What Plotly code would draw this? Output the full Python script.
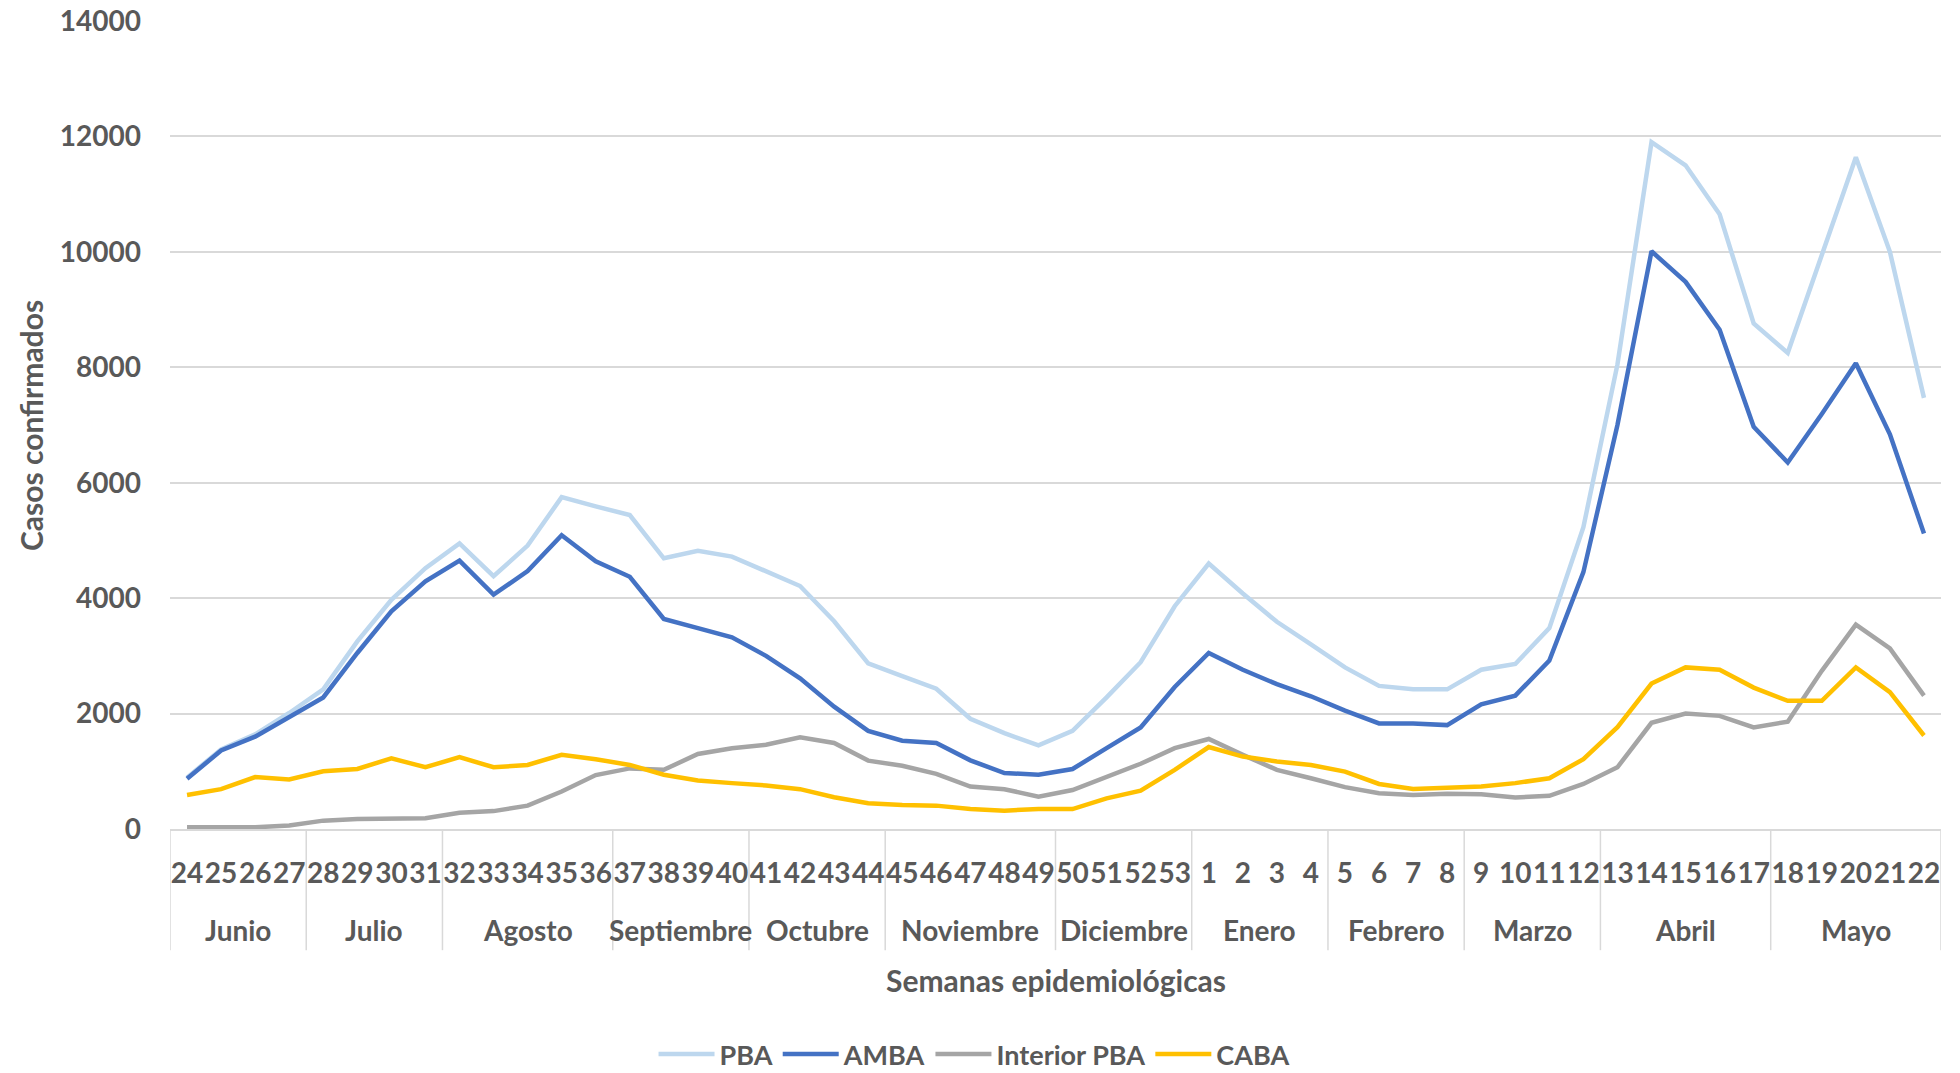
import plotly.graph_objects as go

# ---- data ----
weeks = ["24", "25", "26", "27", "28", "29", "30", "31", "32", "33", "34", "35", "36",
         "37", "38", "39", "40", "41", "42", "43", "44", "45", "46", "47", "48", "49",
         "50", "51", "52", "53", "1", "2", "3", "4", "5", "6", "7", "8", "9", "10",
         "11", "12", "13", "14", "15", "16", "17", "18", "19", "20", "21", "22"]
month_names = ["Junio", "Julio", "Agosto", "Septiembre", "Octubre", "Noviembre",
               "Diciembre", "Enero", "Febrero", "Marzo", "Abril", "Mayo"]
weeks_per_month = [4, 4, 5, 4, 4, 5, 4, 4, 4, 4, 5, 5]

pba = [890, 1380, 1640, 2010, 2420, 3250, 3970, 4520, 4950, 4380, 4910, 5750, 5590,
       5440, 4690, 4820, 4720, 4460, 4210, 3600, 2870, 2650, 2430, 1910, 1660, 1450,
       1700, 2280, 2890, 3860, 4600, 4080, 3590, 3200, 2800, 2480, 2420, 2420, 2760,
       2860, 3480, 5230, 8050, 11900, 11500, 10650, 8760, 8250, 9950, 11640, 10000, 7470]
amba = [870, 1360, 1600, 1950, 2280, 3050, 3770, 4290, 4650, 4060, 4470, 5090, 4640,
        4370, 3640, 3480, 3320, 3000, 2610, 2120, 1700, 1530, 1490, 1190, 970, 940,
        1040, 1400, 1760, 2460, 3050, 2760, 2510, 2300, 2050, 1830, 1830, 1800, 2160,
        2310, 2920, 4450, 7000, 10010, 9480, 8650, 6970, 6350, 7190, 8070, 6840, 5120]
interior = [30, 30, 30, 60, 145, 175, 175, 185, 280, 310, 405, 650, 935,
            1050, 1025, 1300, 1400, 1460, 1590, 1490, 1185, 1095, 955, 735, 690, 560,
            675, 895, 1130, 1400, 1560, 1285, 1025, 880, 725, 620, 590, 610, 600,
            545, 575, 780, 1070, 1840, 2000, 1960, 1760, 1860, 2740, 3540, 3130, 2310]
caba = [590, 690, 900, 860, 1000, 1040, 1225, 1070, 1245, 1070, 1110, 1285, 1210,
        1110, 940, 840, 795, 755, 690, 550, 445, 415, 405, 345, 318, 345,
        345, 530, 665, 1025, 1420, 1255, 1170, 1110, 995, 780, 695, 715, 735,
        795, 880, 1210, 1765, 2520, 2800, 2760, 2450, 2220, 2220, 2800, 2370, 1620]

series = [("PBA", pba, "#BDD7EE"), ("AMBA", amba, "#4472C4"),
          ("Interior PBA", interior, "#A5A5A5"), ("CABA", caba, "#FFC000")]

FONT = "Lato"
TXT = "#595959"
GRID = "#D9D9D9"

fig = go.Figure()
for name, vals, color in series:
    fig.add_trace(go.Scatter(x=weeks, y=vals, name=name, mode="lines",
                             line=dict(color=color, width=4.5)))

# month group labels and dividers on the category axis (index positions)
annotations = []
shapes = []
start = 0
boundaries = [0]
for name, n in zip(month_names, weeks_per_month):
    center = start + (n - 1) / 2
    annotations.append(dict(text=name, x=center, xref="x", y=-0.125, yref="paper",
                            xanchor="center", yanchor="middle", showarrow=False,
                            font=dict(family=FONT, size=28, color=TXT, weight="bold")))
    start += n
    boundaries.append(start)
for b in boundaries:
    shapes.append(dict(type="line", xref="x", yref="paper", x0=b - 0.5, x1=b - 0.5,
                       y0=0, y1=-0.15, line=dict(color=GRID, width=1.5)))

annotations += [
    dict(text="Semanas epidemiológicas", x=0.5, xref="paper", y=-0.187, yref="paper",
         xanchor="center", yanchor="middle", showarrow=False,
         font=dict(family=FONT, size=30, color=TXT, weight="bold")),
    dict(text="Casos confirmados", x=-0.0785, xref="paper", y=0.5, yref="paper",
         xanchor="center", yanchor="middle", textangle=-90, showarrow=False,
         font=dict(family=FONT, size=30, color=TXT, weight="bold")),
]

fig.update_layout(
    width=1960, height=1073,
    margin=dict(l=170, r=19, t=21, b=244, autoexpand=False),
    paper_bgcolor="white", plot_bgcolor="white",
    font=dict(family=FONT, color=TXT, size=28),
    showlegend=True,
    legend=dict(orientation="h", x=0.454, xanchor="center", y=-0.279, yanchor="middle",
                font=dict(family=FONT, size=27, color=TXT, weight="bold"),
                itemwidth=56, tracegroupgap=0, bgcolor="rgba(0,0,0,0)"),
    annotations=annotations,
    shapes=shapes,
)

fig.update_yaxes(range=[0, 14000], dtick=2000, tickformat="d", showgrid=True,
                 gridcolor=GRID, gridwidth=2, automargin=False,
                 zeroline=False, showline=False, ticks="", ticklabelstandoff=28,
                 tickfont=dict(family=FONT, size=28, color=TXT, weight="bold"))
fig.update_xaxes(type="category", range=[-0.5, len(weeks) - 0.5],
                 showline=True, linecolor=GRID, linewidth=2, showgrid=False,
                 automargin=False, tickangle=0,
                 ticks="outside", ticklen=18, tickcolor="rgba(0,0,0,0)",
                 tickfont=dict(family=FONT, size=28, color=TXT, weight="bold"))

fig.write_html("out.html", config={"displayModeBar": False},
               post_script="document.body.style.margin='0px';document.body.style.overflow='hidden';")
